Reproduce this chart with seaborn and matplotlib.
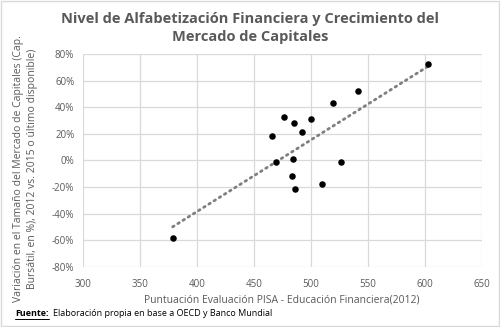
import matplotlib
matplotlib.use("Agg")
import matplotlib.pyplot as plt
import seaborn as sns
import pandas as pd
import numpy as np

pisa = [378.9, 602.9, 541.2, 519.8, 476.3, 500.3, 485.6, 492.1, 466.1, 469.9, 484.7, 526.3, 483.9, 509.9, 486.0]
growth = [-58.6, 72.7, 52.2, 43.2, 32.3, 30.8, 27.8, 21.3, 18.3, -1.2, 1.3, -1.5, -11.5, -17.7, -21.8]
xticks = [300, 350, 400, 450, 500, 550, 600, 650]
yticks = [-80, -60, -40, -20, 0, 20, 40, 60, 80]

df = pd.DataFrame({"pisa": pisa, "growth": growth})

sns.set_theme(style="white")
plt.rcParams['font.family'] = ['Open Sans', 'DejaVu Sans']

TXT = "#595959"
fig = plt.figure(figsize=(5.0, 3.27), dpi=100)
ax = fig.add_axes([0.1654, 0.1844, 0.798, 0.6505])

sns.regplot(data=df, x="pisa", y="growth", scatter=False, ci=None, truncate=True, ax=ax,
            line_kws=dict(color="#7f7f7f", lw=2.0, linestyle=(0, (0.6, 1.6)), dash_capstyle="round"))
sns.scatterplot(data=df, x="pisa", y="growth", ax=ax, color="black", s=22, edgecolor="black",
                linewidth=0, zorder=5)

ax.set_xlim(300, 650)
ax.set_ylim(-80, 80)
ax.set_xticks(xticks)
ax.set_yticks(yticks)
ax.set_xticklabels([str(v) for v in xticks], fontsize=7, color=TXT)
ax.set_yticklabels([f"{v}%" for v in yticks], fontsize=7, color=TXT)
ax.grid(True, color="#d9d9d9", lw=0.9)
ax.set_axisbelow(True)
for s in ax.spines.values():
    s.set_visible(False)
ax.tick_params(axis="y", length=0, pad=6)
ax.tick_params(axis="x", length=0, pad=9)

ax.set_xlabel("Puntuación Evaluación PISA - Educación Financiera(2012)", fontsize=7.5, color=TXT, labelpad=3)
ax.set_ylabel("Variación en el Tamaño del Mercado de Capitales (Cap.\nBursátil, en %), 2012 vs. 2015 o último disponible)",
              fontsize=7.5, color=TXT, linespacing=1.3)
ax.yaxis.set_label_coords(-0.113, 0.46)

fig.text(0.5, 0.915, "Nivel de Alfabetización Financiera y Crecimiento del\nMercado de Capitales",
         ha="center", va="center", fontsize=10.5, fontweight="bold", color=TXT, linespacing=1.35)

fig.text(0.03, 0.04, "Fuente:", fontsize=6.5, fontweight="bold", color="black", ha="left", va="center")
fig.add_artist(plt.Line2D([0.03, 0.098], [0.025, 0.025], color="black", lw=0.7, transform=fig.transFigure))
fig.text(0.106, 0.04, "Elaboración propia en base a OECD y Banco Mundial", fontsize=6.5, color="black",
         ha="left", va="center")

fig.add_artist(plt.Rectangle((0.002, 0.003), 0.996, 0.994, transform=fig.transFigure,
                             fill=False, edgecolor="#d9d9d9", lw=1))

fig.savefig("out.png", dpi=100)
